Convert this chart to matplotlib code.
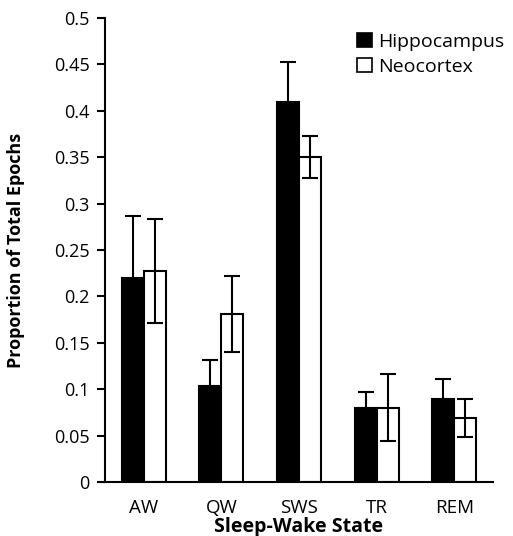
import matplotlib
matplotlib.use("Agg")
import matplotlib.pyplot as plt
import numpy as np
from matplotlib.patches import Patch

categories = ["AW", "QW", "SWS", "TR", "REM"]
hippocampus = [0.220, 0.104, 0.410, 0.080, 0.089]
hippocampus_err = [0.067, 0.028, 0.043, 0.017, 0.022]
neocortex = [0.227, 0.181, 0.350, 0.080, 0.069]
neocortex_err = [0.056, 0.041, 0.0225, 0.036, 0.021]
yticks = [0, 0.05, 0.1, 0.15, 0.2, 0.25, 0.3, 0.35, 0.4, 0.45, 0.5]
ytick_labels = ["0", "0.05", "0.1", "0.15", "0.2", "0.25", "0.3", "0.35", "0.4", "0.45", "0.5"]

plt.rcParams['font.family'] = ['Open Sans', 'DejaVu Sans']

fig = plt.figure(figsize=(5.13, 5.36), dpi=100)
ax = fig.add_axes([0.2047, 0.1007, 0.961 - 0.2047, 0.9664 - 0.1007])

x = np.arange(len(categories))
w = 0.283
ax.bar(x - w/2, hippocampus, w, color='black', edgecolor='black', linewidth=1.5,
       yerr=hippocampus_err, error_kw=dict(ecolor='black', elinewidth=1.5, capsize=6, capthick=1.5), zorder=2)
ax.bar(x + w/2, neocortex, w, color='white', edgecolor='black', linewidth=1.5,
       yerr=neocortex_err, error_kw=dict(ecolor='black', elinewidth=1.5, capsize=6, capthick=1.5), zorder=2)

ax.set_xlim(-0.5, len(categories) - 0.5)
ax.set_ylim(0, 0.5)
ax.set_yticks(yticks)
ax.set_yticklabels(ytick_labels, fontsize=13)
ax.set_xticks(x)
ax.set_xticklabels(categories, fontsize=13.5)
ax.tick_params(axis='x', length=0, pad=12)
ax.tick_params(axis='y', length=6, width=1.5, direction='out', pad=5)

for s in ['top', 'right']:
    ax.spines[s].set_visible(False)
for s in ['left', 'bottom']:
    ax.spines[s].set_linewidth(1.5)
ax.spines['left'].set_bounds(0, 0.5)

ax.set_xlabel("Sleep-Wake State", fontsize=14, fontweight='bold', labelpad=0.5)
ax.set_ylabel("Proportion of Total Epochs", fontsize=13, fontweight='bold', labelpad=4)
ax.yaxis.set_label_coords(-0.205, 0.5)

handles = [Patch(facecolor='black', edgecolor='black', linewidth=1.2),
           Patch(facecolor='white', edgecolor='black', linewidth=1.2)]
ax.legend(handles, ["Hippocampus", "Neocortex"], loc='upper left', frameon=False,
          fontsize=14, handlelength=0.75, handleheight=0.75, handletextpad=0.3,
          borderaxespad=0.0, labelspacing=0.38, bbox_to_anchor=(0.63, 0.985))

fig.savefig("out.png", dpi=100)
